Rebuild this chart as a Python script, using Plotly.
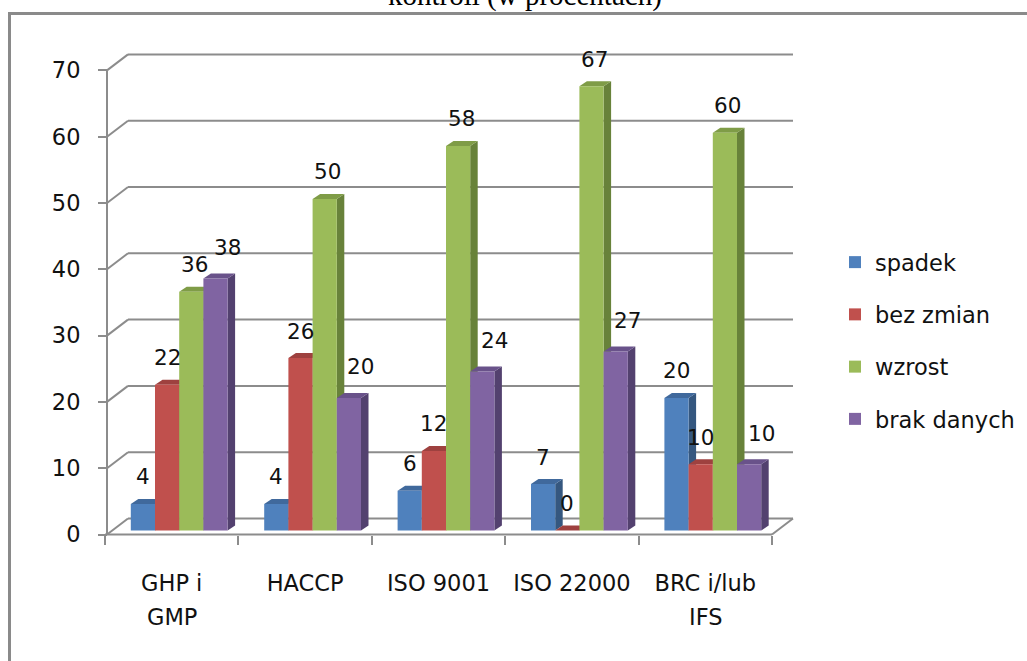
import plotly.graph_objects as go

# ---- data -------------------------------------------------------------
categories = ["GHP i", "HACCP", "ISO 9001", "ISO 22000", "BRC i/lub"]
categories_line2 = ["GMP", "", "", "", "IFS"]
series_names = ["spadek", "bez zmian", "wzrost", "brak danych"]
spadek = [4, 4, 6, 7, 20]
bez_zmian = [22, 26, 12, 0, 10]
wzrost = [36, 50, 58, 67, 60]
brak_danych = [38, 20, 24, 27, 10]
y_ticks = [0, 10, 20, 30, 40, 50, 60, 70]
title_text = "kontroli (w procentach)"

series_values = [spadek, bez_zmian, wzrost, brak_danych]

# ---- styles -----------------------------------------------------------
front_colors = ["#4F81BD", "#C0504D", "#9BBB59", "#8064A2"]
top_colors = ["#40699C", "#9E413F", "#7F9C47", "#69528A"]
side_colors = ["#35577F", "#833533", "#68823A", "#53416F"]
frame_gray = "#8C8C8C"
font_family = "DejaVu Sans"
axis_size = 22.5
label_size = 21.5

W, H = 1027, 661

# pixel geometry of the pseudo-3D box
X0_PX = 105.0      # left end of the floor's front edge
CAT_PX = 133.4     # width of one category slot
Y0_PX = 534.5      # front baseline (value 0)
UNIT_PX = 6.63     # pixels per percentage point
AXIS_PX = 107.0    # front vertical axis
BACK_DX, BACK_DY = 21.0, 16.0     # back wall offset
BAR_DX, BAR_DY = 7.5, 4.0         # bar front plane offset
DEPTH_DX, DEPTH_DY = 7.5, 5.0     # bar thickness
BAR_W_PX = 24.2


def u_of_px(px):
    return -0.5 + (px - X0_PX) / CAT_PX


def v_of_px(py):
    return (Y0_PX - py) / UNIT_PX


dom_l, dom_r, dom_t, dom_b = 100.0, 797.0, 50.0, 539.0
x_range = [u_of_px(dom_l), u_of_px(dom_r)]
y_range = [v_of_px(dom_b), v_of_px(dom_t)]
x_dom = [dom_l / W, dom_r / W]
y_dom = [1 - dom_b / H, 1 - dom_t / H]

bar_du = BAR_DX / CAT_PX
bar_dv = BAR_DY / UNIT_PX
x2_range = [x_range[0] - bar_du, x_range[1] - bar_du]
y2_range = [y_range[0] - bar_dv, y_range[1] - bar_dv]

back_du = BACK_DX / CAT_PX
back_dv = BACK_DY / UNIT_PX
dep_du = DEPTH_DX / CAT_PX
dep_dv = DEPTH_DY / UNIT_PX
bar_w = BAR_W_PX / CAT_PX
u_axis = u_of_px(AXIS_PX)

fig = go.Figure()

# bars (front faces)
for j, (name, vals) in enumerate(zip(series_names, series_values)):
    fig.add_trace(go.Bar(
        x=list(range(len(categories))), y=vals, name=name,
        marker=dict(color=front_colors[j], line=dict(width=0)),
        xaxis="x2", yaxis="y2", legendgroup=name, hoverinfo="skip",
    ))

shapes = []
line_style = dict(color=frame_gray, width=2)

# back wall gridlines and the short diagonals joining them to the front axis
for v in y_ticks:
    shapes.append(dict(type="line", xref="x", yref="y", layer="below",
                       x0=u_axis + back_du, x1=4.5 + back_du,
                       y0=v + back_dv, y1=v + back_dv, line=line_style))
    shapes.append(dict(type="line", xref="x", yref="y", layer="below",
                       x0=u_axis, x1=u_axis + back_du,
                       y0=v, y1=v + back_dv, line=line_style))

# front vertical axis, floor front edge and floor right edge
shapes.append(dict(type="line", xref="x", yref="y", layer="below",
                   x0=u_axis, x1=u_axis, y0=0, y1=y_ticks[-1], line=line_style))
shapes.append(dict(type="line", xref="x", yref="y", layer="below",
                   x0=-0.5, x1=4.5, y0=0, y1=0, line=line_style))
shapes.append(dict(type="line", xref="x", yref="y", layer="below",
                   x0=4.5, x1=4.5 + back_du, y0=0, y1=back_dv, line=line_style))

# bar depth: top and right-hand faces
for j, vals in enumerate(series_values):
    for i, v in enumerate(vals):
        xc = i + (j - 1.5) * bar_w
        xl, xr = xc - bar_w / 2, xc + bar_w / 2
        side = (f"M {xr},0 L {xr + dep_du},{dep_dv} L {xr + dep_du},{v + dep_dv} "
                f"L {xr},{v} Z")
        top = (f"M {xl},{v} L {xl + dep_du},{v + dep_dv} L {xr + dep_du},{v + dep_dv} "
               f"L {xr},{v} Z")
        shapes.append(dict(type="path", path=side, xref="x2", yref="y2", layer="below",
                           fillcolor=side_colors[j], line=dict(width=0)))
        shapes.append(dict(type="path", path=top, xref="x2", yref="y2", layer="below",
                           fillcolor=top_colors[j], line=dict(width=0)))

# outer chart frame
shapes.append(dict(type="rect", xref="paper", yref="paper",
                   x0=9.5 / W, x1=1.02, y0=-0.05, y1=1 - 13.5 / H,
                   line=dict(color="#8A8A8A", width=3), layer="below"))

annotations = []
label_xshift = [0, 0, 3, 12]
label_yshift = [27, 27, 27, 31]
for j, vals in enumerate(series_values):
    for i, v in enumerate(vals):
        xc = i + (j - 1.5) * bar_w
        annotations.append(dict(
            x=xc, y=v, xref="x2", yref="y2", text=str(v), showarrow=False,
            xshift=label_xshift[j], yshift=label_yshift[j],
            font=dict(family=font_family, size=label_size, color="#111111"),
        ))

axis_font = dict(family=font_family, size=axis_size, color="#111111")

# second line of the two-line category names
for i, txt in enumerate(categories_line2):
    if txt:
        annotations.append(dict(
            x=i, y=1 - 617 / H, xref="x", yref="paper", xanchor="center",
            yanchor="middle", text=txt, showarrow=False, font=axis_font,
        ))

annotations.append(dict(
    x=525 / W, y=1 - 14 / H, xref="paper", yref="paper", xanchor="center",
    yanchor="bottom", text=title_text, showarrow=False,
    font=dict(family="Liberation Serif", size=29, color="#000000"),
))

fig.update_layout(
    width=W, height=H, autosize=False,
    margin=dict(l=0, r=0, t=0, b=0, autoexpand=False),
    paper_bgcolor="white", plot_bgcolor="rgba(0,0,0,0)",
    barmode="group", bargap=1 - 4 * bar_w, bargroupgap=0,
    shapes=shapes, annotations=annotations,
    showlegend=True,
    legend=dict(x=835 / W, y=1 - 241 / H, xanchor="left", yanchor="top",
                font=dict(family=font_family, size=axis_size, color="#111111"),
                tracegroupgap=20, bgcolor="rgba(0,0,0,0)"),
    xaxis=dict(domain=x_dom, range=x_range, anchor="free", position=1 - Y0_PX / H,
               automargin=False,
               tickmode="array", tickvals=list(range(len(categories))),
               ticktext=categories, ticks="", showgrid=False, zeroline=False,
               showline=False, tickfont=axis_font, ticklabelstandoff=33,
               minor=dict(tickmode="array",
                          tickvals=[k - 0.5 for k in range(len(categories) + 1)],
                          ticks="outside", ticklen=9, tickwidth=2,
                          tickcolor=frame_gray, showgrid=False)),
    yaxis=dict(domain=y_dom, range=y_range, anchor="free", position=AXIS_PX / W,
               automargin=False,
               tickmode="array", tickvals=y_ticks, ticks="outside", ticklen=9,
               tickwidth=2, tickcolor=frame_gray, showgrid=False, zeroline=False,
               showline=False, tickfont=axis_font, ticklabelstandoff=13),
    xaxis2=dict(overlaying="x", range=x2_range, visible=False, showgrid=False,
                zeroline=False, automargin=False),
    yaxis2=dict(overlaying="y", range=y2_range, visible=False, showgrid=False,
                zeroline=False, automargin=False),
)

fig.write_html("out.html")
